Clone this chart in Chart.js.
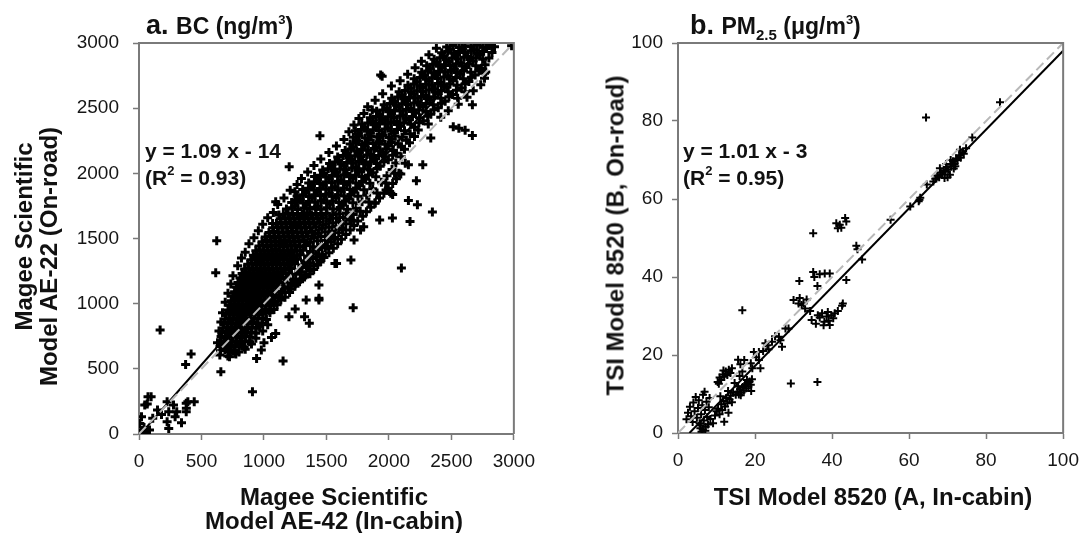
<!DOCTYPE html>
<html>
<head>
<meta charset="utf-8">
<script src="https://cdn.jsdelivr.net/npm/chart.js@4.4.1/dist/chart.umd.min.js"></script>
<style>
  body { margin: 0; background: #fff; width: 1089px; height: 533px; overflow: hidden; position: relative;
         font-family: "Liberation Sans", Arial, sans-serif; color: #111; }
  canvas { position: absolute; top: 0; }
  .txt { position: absolute; font-weight: bold; white-space: nowrap; z-index: 2; }
  .sup { font-size: 13px; position: relative; top: -10px; }
  .sub { font-size: 15px; position: relative; top: 6px; }
  .rot { text-align: center; transform: rotate(-90deg); font-size: 24px; line-height: 25px; height: 25px; }
</style>
</head>
<body>
<canvas id="bcChart" width="545" height="533" style="left:0"></canvas>
<canvas id="pmChart" width="544" height="533" style="left:545px"></canvas>

<div class="txt" style="left:146px; top:12px; font-size:27px; line-height:26px;">a. <span style="font-size:23px">BC (ng/m<span class="sup">3</span>)</span></div>
<div class="txt" style="left:690px; top:12px; font-size:27px; line-height:26px;">b. <span style="font-size:23px">PM<span class="sub">2.5</span> (μg/m<span class="sup">3</span>)</span></div>

<div class="txt" style="left:145px; top:137px; font-size:21px; line-height:27px;">y = 1.09 x - 14<br>(R<span class="sup">2</span> = 0.93)</div>
<div class="txt" style="left:683px; top:137px; font-size:21px; line-height:27px;">y = 1.01 x - 3<br>(R<span class="sup">2</span> = 0.95)</div>

<div class="txt" style="left:134px; width:400px; top:485px; font-size:24px; line-height:24px; text-align:center;">Magee Scientific<br>Model AE-42 (In-cabin)</div>
<div class="txt" style="left:673px; width:400px; top:485px; font-size:24px; line-height:24px; text-align:center;">TSI Model 8520 (A, In-cabin)</div>

<div class="txt rot" style="left:-127px; width:300px; top:224px;">Magee Scientific</div>
<div class="txt rot" style="left:-112px; width:320px; top:244px;">Model AE-22 (On-road)</div>
<div class="txt rot" style="left:435px; width:360px; top:223px;">TSI Model 8520 (B, On-road)</div>

<script>
// tick labels
const bcTicks = [0, 500, 1000, 1500, 2000, 2500, 3000];
const pmTicks = [0, 20, 40, 60, 80, 100];

// regression fits [slope, intercept]
const bcFit = [1.09, -14];
const pmFit = [1.01, -3];

// a. BC, in-cabin (AE-42) vs on-road (AE-22), ng/m3
const bcPoints = [
  // dense core
  [652,638],[688,646],[722,633],[758,644],[800,630],[850,650],
  [648,672],[676,680],[705,668],[738,684],[770,671],[803,679],[842,668],[900,690],
  [652,712],[682,704],[714,717],[745,706],[778,714],[812,702],[848,716],[885,708],
  [657,748],[690,740],[722,752],[754,742],[786,750],[820,739],[852,754],[890,744],[935,735],
  [664,776],[698,786],[730,772],[762,784],[795,775],[828,788],[862,776],[898,782],[935,773],[990,790],
  [672,812],[704,820],[737,808],[770,822],[802,810],[835,818],[868,806],[902,820],[938,812],[965,826],
  [680,846],[712,856],[745,844],[778,852],[810,842],[842,858],[875,848],[908,856],[942,845],[985,852],[1030,838],
  [690,882],[722,890],[755,878],[788,892],[820,880],[852,888],[885,876],[918,890],[952,882],[990,886],[1020,878],
  [698,918],[730,926],[763,914],[796,924],[828,912],[860,928],[893,916],[926,926],[960,914],[995,922],[1048,930],
  [712,952],[744,960],[777,948],[810,958],[842,950],[875,962],[908,948],[940,958],[973,950],[1008,960],[1045,946],[1080,956],
  [725,988],[757,996],[790,984],[822,994],[855,986],[888,998],[920,984],[952,994],[985,986],[1018,998],[1055,984],[1105,992],
  [738,1022],[770,1030],[802,1018],[835,1028],[868,1020],[900,1032],[932,1018],[965,1030],[998,1020],[1032,1030],[1070,1016],[1135,1028],
  [752,1058],[784,1066],[816,1054],[848,1064],[880,1056],[912,1068],[945,1054],[978,1064],[1010,1056],[1044,1066],[1082,1052],[1120,1062],[1168,1050],
  [765,1092],[797,1100],[830,1088],[862,1098],[895,1090],[928,1102],[960,1088],[992,1098],[1025,1090],[1058,1100],[1095,1088],[1140,1096],[1205,1086],
  [780,1126],[812,1134],[844,1122],[876,1132],[908,1124],[940,1136],[972,1122],[1004,1132],[1036,1124],[1070,1134],[1105,1122],[1150,1130],[1195,1120],[1248,1134],
  [792,1162],[824,1170],[856,1158],[888,1168],[920,1160],[952,1172],[985,1158],[1018,1168],[1050,1160],[1084,1170],[1120,1158],[1162,1166],[1215,1156],[1285,1168],
  [808,1196],[840,1204],[872,1192],[904,1202],[936,1194],[968,1206],[1000,1192],[1032,1202],[1065,1194],[1098,1204],[1135,1192],[1180,1200],[1235,1190],[1325,1204],
  [825,1232],[857,1240],[889,1228],[921,1238],[953,1230],[985,1242],[1017,1228],[1050,1238],[1082,1230],[1115,1240],[1152,1228],[1198,1236],[1255,1226],[1300,1244],[1368,1230],
  [845,1266],[877,1274],[909,1262],[941,1272],[973,1264],[1005,1276],[1037,1262],[1070,1272],[1102,1264],[1135,1274],[1172,1262],[1220,1270],[1280,1260],[1345,1276],[1398,1262],
  [870,1302],[902,1310],[934,1298],[966,1308],[998,1300],[1030,1312],[1062,1298],[1095,1308],[1127,1300],[1160,1310],[1198,1298],[1245,1306],[1305,1296],[1370,1310],[1430,1300],
  [895,1336],[927,1344],[959,1332],[991,1342],[1023,1334],[1055,1346],[1087,1332],[1120,1342],[1152,1334],[1185,1344],[1222,1332],[1268,1340],[1325,1330],[1392,1346],[1448,1334],
  [915,1372],[947,1380],[979,1368],[1011,1378],[1043,1370],[1075,1382],[1107,1368],[1140,1378],[1172,1370],[1205,1380],[1242,1368],[1290,1376],[1350,1366],[1420,1382],[1468,1370],
  [935,1406],[967,1414],[999,1402],[1031,1412],[1063,1404],[1095,1416],[1127,1402],[1160,1412],[1192,1404],[1225,1414],[1262,1402],[1310,1410],[1372,1400],[1440,1416],
  [960,1442],[992,1450],[1024,1438],[1056,1448],[1088,1440],[1120,1452],[1152,1438],[1185,1448],[1217,1440],[1250,1450],[1287,1438],[1335,1446],[1395,1436],[1460,1452],[1508,1440],
  [985,1476],[1022,1484],[1058,1472],[1095,1482],[1132,1474],[1170,1486],[1208,1472],[1245,1482],[1282,1474],[1322,1484],[1370,1472],[1428,1480],[1492,1486],[1538,1474],
  [1010,1512],[1048,1520],[1085,1508],[1122,1518],[1160,1510],[1198,1522],[1235,1508],[1272,1518],[1310,1510],[1352,1520],[1400,1508],[1455,1516],[1515,1522],[1565,1510],
  [1040,1546],[1078,1554],[1115,1542],[1152,1552],[1190,1544],[1228,1556],[1265,1542],[1302,1552],[1340,1544],[1385,1554],[1435,1542],[1490,1550],[1545,1556],[1598,1544],
  [1070,1582],[1108,1590],[1145,1578],[1182,1588],[1220,1580],[1258,1592],[1295,1578],[1332,1588],[1370,1580],[1415,1590],[1465,1578],[1520,1586],[1575,1592],[1628,1580],
  [1100,1616],[1138,1624],[1175,1612],[1212,1622],[1250,1614],[1288,1626],[1325,1612],[1362,1622],[1400,1614],[1445,1624],[1495,1612],[1550,1620],[1605,1626],[1655,1614],
  [1130,1652],[1168,1660],[1205,1648],[1242,1658],[1280,1650],[1318,1662],[1355,1648],[1392,1658],[1430,1650],[1475,1660],[1525,1648],[1580,1656],[1635,1662],[1688,1650],
  [1155,1686],[1193,1694],[1230,1682],[1267,1692],[1305,1684],[1343,1696],[1380,1682],[1417,1692],[1455,1684],[1500,1694],[1550,1682],[1605,1690],[1660,1696],[1715,1684],
  // right-hand side of the core, across the 1:1 line
  [1090,1010],[1130,1045],[1170,1085],[1215,1110],[1250,1150],[1290,1185],[1335,1220],[1370,1255],[1340,1290],
  [1400,1290],[1450,1320],[1420,1360],[1480,1355],[1520,1390],[1490,1430],[1555,1425],[1590,1460],[1560,1500],
  [1620,1495],[1655,1530],[1630,1570],[1690,1565],[1720,1600],[1700,1640],[1750,1635],[1790,1670],[1770,1710],
  [1820,1705],[1855,1740],[1840,1780],[1890,1775],[1925,1810],[1905,1850],[1960,1848],[1995,1885],[1975,1925],
  [2030,1922],[2060,1958],[2045,2000],[2095,1995],
  // upper band
  [1180,1726],[1225,1736],[1270,1722],[1318,1734],[1365,1728],[1410,1740],[1458,1724],[1505,1736],[1555,1726],[1610,1738],[1668,1724],[1740,1732],
  [1222,1776],[1268,1786],[1315,1772],[1362,1784],[1408,1778],[1455,1790],[1502,1774],[1550,1786],[1600,1776],[1652,1788],[1712,1774],[1785,1782],
  [1265,1826],[1310,1836],[1358,1822],[1405,1834],[1452,1828],[1498,1840],[1545,1824],[1592,1836],[1642,1826],[1695,1838],[1752,1824],[1822,1832],
  [1310,1876],[1356,1886],[1402,1872],[1450,1884],[1496,1878],[1542,1890],[1590,1874],[1638,1886],[1688,1876],[1740,1888],[1800,1874],[1870,1882],
  [1358,1926],[1404,1936],[1450,1922],[1497,1934],[1543,1928],[1590,1940],[1637,1924],[1685,1936],[1735,1926],[1788,1938],[1848,1924],[1940,1932],
  [1405,1976],[1452,1986],[1498,1972],[1545,1984],[1592,1978],[1638,1990],[1685,1974],[1733,1986],[1783,1976],[1836,1988],[1895,1974],[1985,1982],
  [1470,2026],[1515,2036],[1562,2022],[1608,2034],[1655,2028],[1702,2040],[1750,2024],[1798,2036],[1848,2026],[1905,2038],[2025,2030],
  [1525,2076],[1570,2086],[1617,2072],[1663,2084],[1710,2078],[1757,2090],[1805,2074],[1853,2086],[1903,2076],[1960,2088],[2055,2080],
  [1590,2126],[1635,2136],[1682,2122],[1728,2134],[1775,2128],[1822,2140],[1870,2124],[1918,2136],[1970,2126],[2030,2138],[2098,2128],
  [1650,2176],[1695,2186],[1742,2172],[1788,2184],[1835,2178],[1882,2190],[1930,2174],[1980,2186],[2035,2176],[2125,2184],
  [1690,2226],[1735,2236],[1782,2222],[1828,2234],[1875,2228],[1922,2240],[1970,2224],[2020,2236],[2075,2226],[2165,2234],
  [1715,2276],[1762,2286],[1810,2272],[1857,2284],[1905,2278],[1952,2290],[2000,2274],[2050,2286],[2105,2276],[2205,2282],
  [1732,2326],[1780,2336],[1828,2322],[1875,2334],[1922,2328],[1970,2340],[2018,2324],[2068,2336],[2125,2326],[2235,2332],
  [1782,2376],[1830,2386],[1878,2372],[1925,2384],[1972,2378],[2020,2390],[2068,2374],[2118,2386],[2175,2376],[2240,2388],[2315,2378],
  [1852,2426],[1900,2436],[1948,2422],[1995,2434],[2042,2428],[2090,2440],[2138,2424],[2188,2436],[2245,2426],[2310,2438],[2415,2430],
  [1902,2476],[1950,2486],[1998,2472],[2045,2484],[2092,2478],[2140,2490],[2188,2474],[2238,2486],[2295,2476],[2360,2488],[2475,2480],
  [1962,2526],[2010,2536],[2058,2522],[2105,2534],[2152,2528],[2200,2540],[2248,2524],[2298,2536],[2355,2526],[2420,2538],[2555,2530],
  [2022,2576],[2070,2586],[2118,2572],[2165,2584],[2212,2578],[2260,2590],[2308,2574],[2358,2586],[2415,2576],[2480,2588],[2550,2576],[2625,2584],
  [2082,2626],[2130,2636],[2178,2622],[2225,2634],[2272,2628],[2320,2640],[2368,2624],[2418,2636],[2475,2626],[2540,2638],[2610,2626],[2675,2634],
  [2152,2676],[2200,2686],[2248,2672],[2295,2684],[2342,2678],[2390,2690],[2438,2674],[2488,2686],[2545,2676],[2610,2688],[2735,2680],
  [2202,2726],[2250,2736],[2298,2722],[2345,2734],[2392,2728],[2440,2740],[2488,2724],[2538,2736],[2595,2726],[2660,2738],[2765,2730],
  [2262,2776],[2310,2786],[2358,2772],[2405,2784],[2452,2778],[2500,2790],[2548,2774],[2598,2786],[2655,2776],[2720,2788],[2775,2778],
  [2302,2826],[2350,2836],[2398,2822],[2445,2834],[2492,2828],[2540,2840],[2588,2824],[2638,2836],[2695,2826],[2770,2834],
  [2362,2876],[2410,2886],[2458,2872],[2505,2884],[2552,2878],[2600,2890],[2648,2874],[2698,2886],[2750,2876],[2800,2884],
  [2422,2926],[2470,2936],[2518,2922],[2565,2934],[2612,2928],[2660,2940],[2708,2924],[2758,2936],[2825,2928],
  [2462,2970],[2512,2980],[2560,2966],[2608,2978],[2655,2972],[2702,2984],[2750,2970],[2800,2980],[2845,2972],[2982,2978],
  // in-between fill of the upper band
  [1248,1752],[1340,1760],[1430,1748],[1528,1762],[1630,1756],[1290,1802],[1385,1810],[1478,1798],[1575,1812],[1680,1804],
  [1335,1852],[1428,1858],[1522,1848],[1618,1862],[1720,1854],[1380,1902],[1475,1908],[1568,1898],[1662,1912],[1765,1904],
  [1428,1952],[1522,1958],[1615,1948],[1710,1962],[1812,1954],[1478,2002],[1572,2008],[1665,1998],[1760,2012],[1870,2004],
  [1540,2052],[1640,2058],[1735,2048],[1830,2062],[1930,2054],[1598,2102],[1695,2108],[1790,2098],[1885,2112],[1995,2104],
  [1665,2152],[1760,2158],[1855,2148],[1950,2162],[2060,2154],[1712,2202],[1808,2208],[1900,2198],[1995,2212],[2100,2204],
  [1740,2252],[1835,2258],[1928,2248],[2025,2262],[2140,2254],[1755,2302],[1850,2308],[1945,2298],[2042,2312],[2170,2304],
  [1805,2352],[1900,2358],[1995,2348],[2092,2362],[2205,2354],[1875,2402],[1970,2408],[2065,2398],[2162,2412],[2275,2404],
  [1925,2452],[2020,2458],[2115,2448],[2212,2462],[2335,2454],[1985,2502],[2080,2508],[2175,2498],[2272,2512],[2395,2504],
  [2045,2552],[2140,2558],[2235,2548],[2332,2562],[2450,2554],[2105,2602],[2200,2608],[2295,2598],[2392,2612],[2510,2604],
  [2175,2652],[2270,2658],[2365,2648],[2462,2662],[2580,2654],[2225,2702],[2320,2708],[2415,2698],[2512,2712],[2640,2704],
  [2285,2752],[2380,2758],[2475,2748],[2572,2762],[2690,2754],[2330,2802],[2425,2808],[2520,2798],[2618,2812],[2740,2804],
  [2385,2852],[2480,2858],[2575,2848],[2672,2862],[2440,2902],[2535,2908],[2630,2898],[2728,2912],[2490,2952],[2585,2958],
  [2680,2948],[2780,2958],
  // ragged upper-left edge of the band
  [628,700],[640,790],[655,860],[668,930],[690,1010],[712,1080],[735,1150],[752,1215],[790,1290],[820,1350],
  [850,1395],[880,1460],[920,1505],[955,1560],[990,1610],[1030,1660],[1075,1700],[1110,1760],[1160,1810],
  [1210,1870],[1265,1915],[1300,1960],[1350,2010],[1400,2060],[1455,2110],[1520,2160],[1580,2210],[1640,2260],
  [1680,2320],[1720,2370],[1760,2420],[1800,2460],[1830,2510],[1890,2560],[1950,2610],[2020,2670],[2090,2710],
  [2150,2760],[2210,2810],[2260,2860],[2320,2910],[2380,2960],
  // scatter, upper-left side
  [1934,2755],[1946,2745],[1448,2289],[1202,2051],[622,1483],[614,1238],[169,798],[1094,1782],[1248,1859],
  [1248,1795],[1120,1680],[1069,1616],[1867,2486],
  // scatter, lower-right side
  [2668,2526],[2765,2767],[2515,2358],[2560,2345],[2610,2330],[2668,2291],[2335,2271],[2156,2066],[2271,2066],
  [2220,1943],[2015,1848],[2030,1838],[2156,1792],[2228,1759],[2348,1703],[2028,1657],[2169,1631],[2100,1274],
  [1714,969],[908,325],[1338,1028],[1440,1028],[1568,1309],[1721,1488],[1798,1590],[1325,900],[1363,849],
  [1440,1041],[1440,1143],[1153,560],[1696,1335],[1581,1309],[1773,1565],[1888,1770],[1977,1872],[2080,2000],
  [2131,2077],[1926,1642],[1200,900],[1250,960],
  // lower edge of the core
  [770,619],[711,598],[647,606],[655,478],[724,593],[775,613],[941,580],[979,644],[1094,772],[1060,740],[1000,700],
  // low end, near the origin
  [97,286],[66,230],[72,286],[46,222],[20,133],[7,81],[84,30],[40,50],[30,15],[60,10],[12,5],[148,184],[225,248],
  [238,171],[276,222],[302,171],[225,94],[289,133],[340,87],[238,43],[378,235],[442,248],[391,248],[379,197],
  [378,171],[417,613],[373,534],[110,120],[180,150]
];

// b. PM2.5, TSI 8520 A (in-cabin) vs B (on-road), ug/m3
const pmPoints = [
  [2.2,3.5],[2.6,5.2],[3.1,6.7],[3.4,4.3],[3.8,2.8],[4.0,7.8],[4.3,5.6],[4.6,9.2],[4.9,3.9],[5.2,6.4],
  [5.4,8.4],[5.6,2.5],[5.8,1.2],[6.0,4.8],[6.1,0.3],[6.3,7.1],[6.5,9.8],[6.7,3.2],[6.9,10.6],[7.0,5.9],
  [7.2,1.6],[7.4,8.0],[7.6,4.1],[7.8,2.2],[8.0,6.6],[8.2,9.0],[8.4,3.6],[6.4,0.9],[5.9,2.0],[7.1,0.6],
  [9.1,2.5],[9.6,4.5],[10.0,5.6],[10.4,6.2],[10.8,4.8],[11.2,7.4],[11.5,5.9],[11.8,8.2],[12.0,2.9],[12.2,6.8],
  [12.5,9.0],[12.8,7.6],[13.1,5.2],[13.4,8.6],[13.7,9.6],[14.0,7.9],[14.3,10.3],[13.0,10.8],[11.0,9.4],
  [10.3,13.1],[10.8,14.2],[11.2,13.6],[11.6,15.0],[12.0,14.4],[12.4,15.8],[12.8,14.9],[13.2,16.2],[13.6,15.4],
  [14.0,16.6],[11.8,16.0],[10.6,12.6],
  [15.0,9.8],[15.4,10.6],[15.8,9.9],[16.1,11.2],[16.5,10.4],[16.8,11.8],[17.1,10.9],[17.4,12.3],[17.7,11.5],
  [18.0,12.8],[18.3,11.9],[18.6,13.2],[18.9,12.4],[19.2,13.8],[19.0,10.8],[16.3,9.7],[17.9,13.6],[15.6,11.9],
  [15.6,18.8],[16.2,17.6],[17.2,18.7],[18.9,17.9],[19.3,16.6],[19.7,20.8],[21.0,18.7],[21.4,16.6],[21.0,20.8],
  [22.7,23.0],[23.2,22.5],[24.4,23.4],[23.5,21.5],[26.6,23.8],[27.0,22.1],[28.7,26.8],[26.2,24.7],[27.9,26.8],
  [16.0,14.6],[16.7,15.8],[14.7,12.8],[20.3,19.4],[22.1,21.0],[25.2,24.8],
  [16.7,31.5],[29.3,12.7],[36.2,13.1],
  [30.0,34.1],[31.3,33.2],[32.1,32.8],[33.4,34.2],[32.6,33.2],[31.6,34.6],[34.3,31.3],[33.0,31.9],
  [31.5,39.0],[35.1,41.3],[36.8,40.7],[38.1,40.9],[39.4,40.9],[36.2,37.7],[35.4,40.0],
  [34.7,29.0],[35.8,28.0],[36.8,29.6],[37.4,30.7],[38.0,28.5],[38.6,29.9],[39.1,28.8],[39.4,27.7],[39.8,30.2],
  [40.3,29.4],[40.7,30.7],[36.3,30.2],[37.8,27.6],[38.9,31.0],[41.5,31.3],
  [42.8,33.2],[42.6,32.6],[43.7,39.2],[35.1,51.2],[41.1,53.8],[41.5,52.5],[42.4,52.6],[43.7,54.2],[43.4,55.1],
  [42.0,53.4],[46.3,48.0],[46.6,47.1],[47.8,44.5],[55.2,54.7],
  [60.3,58.1],[62.5,59.4],[62.9,60.3],[62.7,59.8],[64.6,63.7],[66.3,64.5],
  [66.8,65.2],[67.3,66.0],[67.8,65.6],[68.2,66.8],[68.6,66.3],[69.0,67.4],[69.4,67.0],[69.8,68.2],[70.2,67.5],
  [70.6,66.2],[71.0,68.8],[71.4,69.6],[71.8,69.0],[72.2,70.4],[72.6,70.0],[73.0,71.2],[73.4,70.6],[73.8,72.0],
  [74.2,71.6],[74.8,73.0],[68.0,67.9],[69.6,69.0],[70.8,70.0],[72.0,68.4],[70.0,65.6],[71.6,67.8],[73.2,72.6],
  [69.2,65.4],
  [64.4,80.9],[76.4,75.8],[83.6,84.8]
];

Chart.defaults.font.family = '"Liberation Sans", Arial, sans-serif';
Chart.defaults.color = '#111';

const toXY = arr => arr.map(p => ({ x: p[0], y: p[1] }));

// end points of the fitted line inside the square plot
function fitLine(fit, max) {
  const x0 = -fit[1] / fit[0];
  const x1 = Math.min(max, (max - fit[1]) / fit[0]);
  return [{ x: x0, y: 0 }, { x: x1, y: fit[0] * x1 + fit[1] }];
}

// grey frame on top and right of the plot
const framePlugin = {
  id: 'frame',
  afterDraw(chart) {
    const { ctx, chartArea: a } = chart;
    ctx.save();
    ctx.strokeStyle = '#7a7a7a';
    ctx.lineWidth = 2;
    ctx.beginPath();
    ctx.moveTo(a.left, a.top);
    ctx.lineTo(a.right, a.top);
    ctx.lineTo(a.right, a.bottom);
    ctx.stroke();
    ctx.restore();
  }
};

function axis(ticks, fitSize, pad, horizontal) {
  return {
    type: 'linear',
    min: ticks[0],
    max: ticks[ticks.length - 1],
    afterBuildTicks: s => { s.ticks = ticks.map(v => ({ value: v })); },
    afterFit: s => { if (horizontal) s.height = fitSize; else s.width = fitSize; },
    grid: { drawOnChartArea: false, drawTicks: true, tickLength: 6, tickColor: '#7a7a7a', tickWidth: 1.5 },
    border: { display: true, color: '#7a7a7a', width: 2 },
    ticks: { font: { size: 19 }, color: '#161616', padding: pad, maxRotation: 0, autoSkip: false,
             callback: v => String(v) }
  };
}

function makeChart(id, points, fit, ticks, padding, yWidth, xHeight, yPad, markerSize, markerWidth) {
  const max = ticks[ticks.length - 1];
  return new Chart(document.getElementById(id), {
    type: 'scatter',
    data: {
      datasets: [
        { data: toXY(points), pointStyle: 'cross', pointRadius: markerSize, borderColor: '#000',
          borderWidth: markerWidth, order: 3 },
        { data: fitLine(fit, max), showLine: true, pointRadius: 0, borderColor: '#000',
          borderWidth: 2, order: 2 },
        { data: [{ x: 0, y: 0 }, { x: max, y: max }], showLine: true, pointRadius: 0,
          borderColor: '#b8b8b8', borderWidth: 2, borderDash: [10, 5], order: 1 }
      ]
    },
    options: {
      responsive: false,
      animation: false,
      events: [],
      layout: { padding: padding },
      plugins: { legend: { display: false }, tooltip: { enabled: false } },
      scales: {
        x: axis(ticks, xHeight, 10, true),
        y: axis(ticks, yWidth, yPad, false)
      }
    },
    plugins: [framePlugin]
  });
}

makeChart('bcChart', bcPoints, bcFit, bcTicks, { left: 0, top: 43, right: 15, bottom: 0 }, 139, 99, 14, 4.5, 3);
makeChart('pmChart', pmPoints, pmFit, pmTicks, { left: 0, top: 43, right: 21, bottom: 0 }, 133, 100, 9, 4, 2);
</script>
</body>
</html>
